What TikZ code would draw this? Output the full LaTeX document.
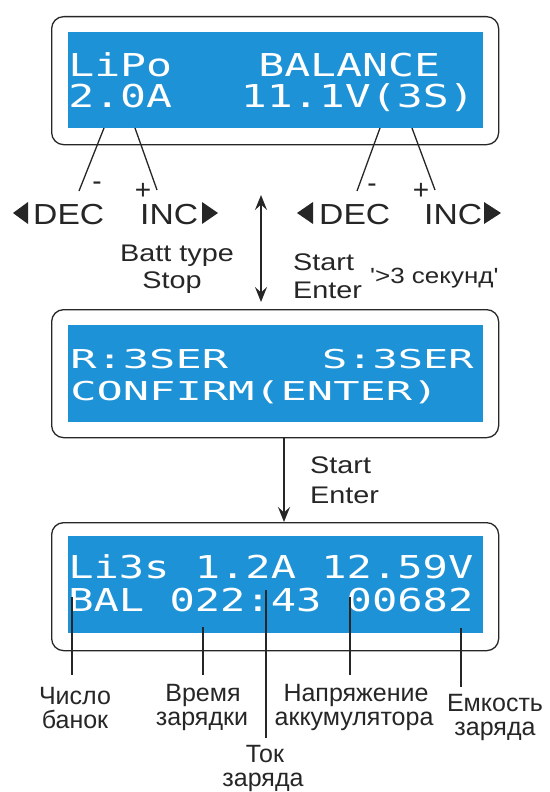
\documentclass[tikz,border=0pt]{standalone}
\usepackage{fontspec}
\setmainfont{Liberation Sans}
\newfontfamily\lcdfont{DejaVu Sans Mono}
\usetikzlibrary{arrows.meta}

\definecolor{lcdblue}{RGB}{30,146,214}
\definecolor{ink}{RGB}{38,38,38}

\tikzset{fhead/.tip={Stealth[length=15pt, width=12pt, inset=5.5pt]}}

\begin{document}
\begin{tikzpicture}[x=1pt,y=-1pt,
  frame/.style={draw=ink, line width=1.3pt, rounded corners=12pt,
    minimum width=447pt, minimum height=128pt, inner sep=0pt, anchor=north west},
  screen/.style={fill=lcdblue, minimum width=415pt, inner sep=0pt, anchor=north west},
  lcdbig/.style={text=white, inner sep=0pt, xscale=1.37,
    font=\lcdfont\fontsize{31.5}{31.5}\selectfont},
  lcdmid/.style={text=white, inner sep=0pt, xscale=1.68,
    font=\lcdfont\fontsize{26}{26}\selectfont},
  lcdrun/.style={text=white, inner sep=0pt, xscale=1.335,
    font=\lcdfont\fontsize{31.5}{31.5}\selectfont},
  btn/.style={text=ink, inner sep=0pt, xscale=1.16,
    font=\fontsize{29}{29}\selectfont},
  sign/.style={text=ink, inner sep=0pt, font=\fontsize{28}{28}\selectfont},
  keylbl/.style={text=ink, inner sep=0pt, xscale=1.2,
    font=\fontsize{24}{24}\selectfont},
  note/.style={text=ink, inner sep=0pt, xscale=1.18,
    font=\fontsize{22}{22}\selectfont},
  lbl/.style={text=ink, inner sep=0pt, anchor=base,
    font=\fontsize{25}{25}\selectfont},
  lead/.style={draw=ink, line width=1.3pt},
  flow/.style={draw=ink, line width=2pt}
]
\useasboundingbox[fill=white] (0,0) rectangle (549,792);

% ---------- screen 1: battery type / current / voltage ----------
\node[frame] (f1) at (51,16) {};
\node[screen, minimum height=96pt] (s1) at (68,32) {};
\node[lcdbig, anchor=base west] (t1a) at (68,76) {LiPo};
\node[lcdbig, anchor=base west] (t1b) at (258,76) {BALANCE};
\node[lcdbig, anchor=base west] (t1c) at (68,107) {2.0A};
\node[lcdbig, anchor=base east] (t1d) at (475,107) {11.1V(3S)};

% leads from the digits to the buttons
\coordinate (la1) at (104,128); \coordinate (la2) at (79,191);
\coordinate (lb1) at (135,128); \coordinate (lb2) at (157,190);
\coordinate (ra1) at (380,128); \coordinate (ra2) at (357,191);
\coordinate (rb1) at (412,128); \coordinate (rb2) at (435,190);
\draw[lead] (la1) -- (la2);
\draw[lead] (lb1) -- (lb2);
\draw[lead] (ra1) -- (ra2);
\draw[lead] (rb1) -- (rb2);

\node[sign] (m1) at (97,186) {-};
\node[sign] (p1) at (143,191) {+};
\node[sign] (m2) at (372,188) {-};
\node[sign] (p2) at (421,191) {+};

% button captions with direction triangles
\node[btn, anchor=base west] (decL) at (33,224) {DEC};
\node[btn, anchor=base west] (incL) at (140,224) {INC};
\node[btn, anchor=base west] (decR) at (319,224) {DEC};
\node[btn, anchor=base west] (incR) at (424,224) {INC};
\fill[ink] (13,213) -- (28,202) -- (28,224) -- cycle;
\fill[ink] (218,213) -- (202,202) -- (202,224) -- cycle;
\fill[ink] (297,213) -- (313,202) -- (313,224) -- cycle;
\fill[ink] (501,213) -- (484,202) -- (484,224) -- cycle;

% two-way transition between screens 1 and 2
\coordinate (ua) at (261,195);
\coordinate (ub) at (261,302);
\draw[flow, fhead-fhead] (ua) -- (ub);

\node[keylbl, anchor=base] (batt) at (177,261) {Batt type};
\node[keylbl, anchor=base] (stop) at (172,288) {Stop};
\node[keylbl, anchor=base west] (start1) at (293,270) {Start};
\node[keylbl, anchor=base west] (enter1) at (293,298) {Enter};
\node[note, anchor=base west] (hold) at (370,283) {\textquotesingle>3 секунд\textquotesingle};

% ---------- screen 2: cell count confirmation ----------
\node[frame] (f2) at (51,309) {};
\node[screen, minimum height=97pt] (s2) at (68,325) {};
\node[lcdmid, anchor=base west] (t2a) at (70,368) {R:3SER};
\node[lcdmid, anchor=base east, xscale=0.96] (t2b) at (474,368) {S:3SER};
\node[lcdmid, anchor=base west] (t2c) at (70,400) {CONFIRM(ENTER)};

\node[keylbl, anchor=base west] (start2) at (310,473) {Start};
\node[keylbl, anchor=base west] (enter2) at (310,503) {Enter};

% ---------- screen 3: running balance charge ----------
\node[frame] (f3) at (51,522) {};
\node[screen, minimum height=97pt] (s3) at (68,536) {};
\node[lcdrun, anchor=base west] (t3a) at (68,578) {Li3s 1.2A 12.59V};
\node[lcdrun, anchor=base west] (t3b) at (68,611) {BAL 022:43 00682};

% transition from screen 2 to screen 3
\coordinate (ax) at (284,0);
\draw[flow, -fhead] (f2.south -| ax) -- (f3.north -| ax);

% callouts
\coordinate (c1a) at (72,597);  \coordinate (c1b) at (72,675);
\coordinate (c2a) at (203,627); \coordinate (c2b) at (203,675);
\coordinate (c3a) at (266,590); \coordinate (c3b) at (266,738);
\coordinate (c4a) at (350,597); \coordinate (c4b) at (350,675);
\coordinate (c5a) at (461,628); \coordinate (c5b) at (461,687);
\draw[lead] (c1a) -- (c1b);
\draw[lead] (c2a) -- (c2b);
\draw[lead] (c3a) -- (c3b);
\draw[lead] (c4a) -- (c4b);
\draw[lead] (c5a) -- (c5b);

\node[lbl] (n1a) at (75,704) {Число};
\node[lbl] (n1b) at (75,728) {банок};
\node[lbl] (n2a) at (203,701) {Время};
\node[lbl] (n2b) at (202,725) {зарядки};
\node[lbl] (n3a) at (265,762) {Ток};
\node[lbl] (n3b) at (263,786) {заряда};
\node[lbl] (n4a) at (356,701) {Напряжение};
\node[lbl] (n4b) at (354,725) {аккумулятора};
\node[lbl] (n5a) at (495,711) {Емкость};
\node[lbl] (n5b) at (495,735) {заряда};
\end{tikzpicture}
\end{document}
